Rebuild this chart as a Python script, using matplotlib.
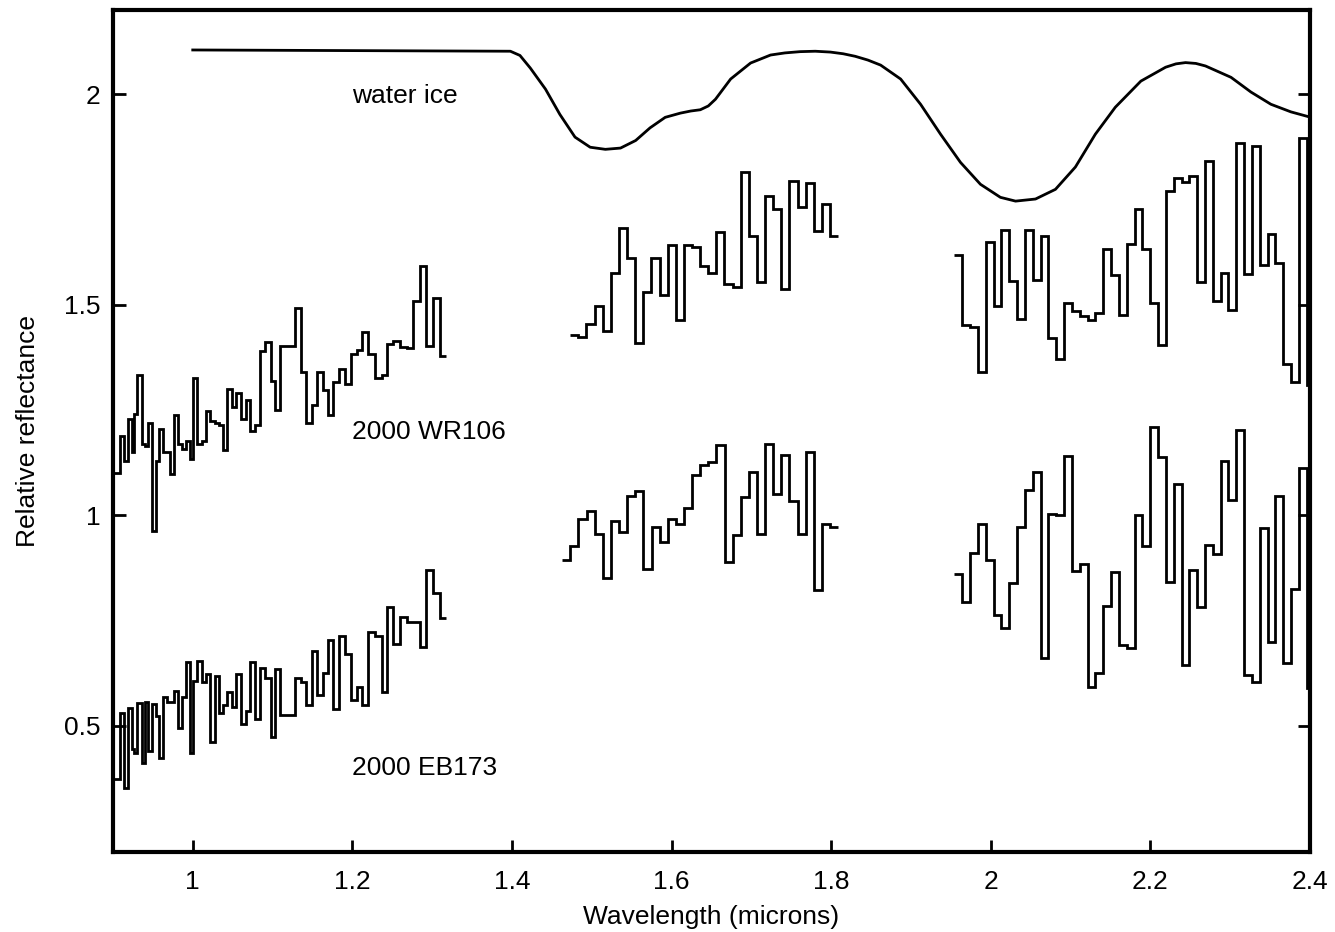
import numpy as np
import matplotlib
matplotlib.use("Agg")
import matplotlib.pyplot as plt

plt.rcParams['font.family'] = ['Liberation Sans', 'DejaVu Sans']

# J band: shared bin edges (microns) for both objects
j_edges = [0.898, 0.9088, 0.9138, 0.9192, 0.9234, 0.9263, 0.9305, 0.9360, 0.9401,
           0.9443, 0.9485, 0.9535, 0.9581, 0.9631, 0.9673, 0.9715, 0.9765, 0.9819,
           0.9861, 0.9915, 0.9966, 1.0007, 1.0058, 1.0112, 1.0166, 1.0216, 1.0279,
           1.0329, 1.0384, 1.0434, 1.0488, 1.0542, 1.0605, 1.0664, 1.0718, 1.0781,
           1.0843, 1.0906, 1.0977, 1.1031, 1.1094, 1.1282, 1.1353, 1.1420, 1.1491,
           1.1554, 1.1629, 1.1700, 1.1763, 1.1834, 1.1909, 1.1980, 1.2055, 1.2127,
           1.2202, 1.2285, 1.2369, 1.2440, 1.2515, 1.2599, 1.2682, 1.2766, 1.2849,
           1.2925, 1.3008, 1.3100, 1.3176]

wr106_j = [1.101, 1.188, 1.129, 1.228, 1.150, 1.240, 1.333, 1.169, 1.165, 1.218,
           0.963, 1.129, 1.204, 1.149, 1.149, 1.097, 1.238, 1.169, 1.157, 1.177,
           1.133, 1.327, 1.170, 1.177, 1.248, 1.224, 1.220, 1.215, 1.154, 1.299,
           1.257, 1.290, 1.228, 1.273, 1.200, 1.215, 1.390, 1.412, 1.319, 1.250,
           1.402, 1.492, 1.339, 1.219, 1.262, 1.339, 1.297, 1.238, 1.317, 1.348,
           1.311, 1.384, 1.393, 1.434, 1.384, 1.325, 1.333, 1.406, 1.413, 1.400,
           1.397, 1.509, 1.591, 1.401, 1.515, 1.378]

eb173_j = [0.373, 0.531, 0.353, 0.543, 0.444, 0.436, 0.555, 0.411, 0.557, 0.440,
           0.551, 0.523, 0.424, 0.568, 0.557, 0.557, 0.583, 0.494, 0.569, 0.652,
           0.436, 0.606, 0.654, 0.603, 0.624, 0.462, 0.617, 0.530, 0.549, 0.579,
           0.545, 0.622, 0.505, 0.535, 0.652, 0.515, 0.638, 0.614, 0.474, 0.634,
           0.526, 0.614, 0.604, 0.549, 0.678, 0.573, 0.625, 0.704, 0.539, 0.713,
           0.671, 0.561, 0.592, 0.549, 0.723, 0.712, 0.580, 0.782, 0.694, 0.759,
           0.747, 0.747, 0.687, 0.869, 0.815, 0.757]

# H band: uniform bins, EB173 starts one bin earlier
h_start_eb, h_start_wr, h_end = 1.463, 1.473, 1.8087
wr106_h = [1.428, 1.424, 1.454, 1.497, 1.438, 1.575, 1.683, 1.610, 1.410, 1.529,
           1.610, 1.523, 1.641, 1.464, 1.641, 1.637, 1.592, 1.576, 1.673, 1.549,
           1.542, 1.816, 1.662, 1.554, 1.757, 1.727, 1.538, 1.793, 1.732, 1.789,
           1.674, 1.739, 1.663]
eb173_h = [0.893, 0.926, 0.992, 1.010, 0.955, 0.852, 0.987, 0.959, 1.046, 1.058,
           0.872, 0.971, 0.937, 0.991, 0.980, 1.016, 1.096, 1.119, 1.127, 1.167,
           0.888, 0.952, 1.044, 1.103, 0.955, 1.170, 1.051, 1.143, 1.034, 0.955,
           1.150, 0.822, 0.979, 0.971]

# K band: uniform bins
k_start, k_end = 1.9545, 2.4057
wr106_k = [1.617, 1.452, 1.446, 1.341, 1.648, 1.496, 1.678, 1.557, 1.467, 1.677,
           1.558, 1.664, 1.422, 1.371, 1.503, 1.484, 1.473, 1.463, 1.480, 1.632,
           1.571, 1.475, 1.644, 1.728, 1.633, 1.504, 1.404, 1.770, 1.802, 1.792,
           1.806, 1.554, 1.842, 1.509, 1.576, 1.487, 1.884, 1.574, 1.877, 1.594,
           1.668, 1.599, 1.359, 1.317, 1.897, 1.310]
eb173_k = [0.861, 0.794, 0.911, 0.980, 0.894, 0.762, 0.731, 0.838, 0.971, 1.059,
           1.103, 0.660, 1.004, 1.000, 1.141, 0.868, 0.885, 0.593, 0.626, 0.785,
           0.864, 0.692, 0.684, 1.001, 0.926, 1.210, 1.139, 0.842, 1.074, 0.645,
           0.869, 0.781, 0.929, 0.907, 1.129, 1.036, 1.202, 0.621, 0.605, 0.969,
           0.699, 1.046, 0.650, 0.824, 1.111, 0.590]

# water ice model
ice_wl = [1.000, 1.398, 1.410, 1.423, 1.442, 1.460, 1.479, 1.498, 1.517, 1.536,
          1.555, 1.573, 1.592, 1.611, 1.624, 1.636, 1.646, 1.655, 1.674, 1.699,
          1.724, 1.742, 1.761, 1.780, 1.799, 1.815, 1.830, 1.846, 1.862, 1.887,
          1.912, 1.937, 1.962, 1.987, 2.012, 2.031, 2.056, 2.081, 2.106, 2.131,
          2.156, 2.188, 2.219, 2.232, 2.244, 2.257, 2.269, 2.301, 2.326, 2.351,
          2.376, 2.401]
ice_refl = [2.105, 2.102, 2.092, 2.062, 2.012, 1.952, 1.898, 1.874, 1.869, 1.872,
            1.890, 1.920, 1.945, 1.955, 1.960, 1.963, 1.972, 1.988, 2.036, 2.074,
            2.093, 2.098, 2.101, 2.102, 2.100, 2.096, 2.090, 2.081, 2.069, 2.036,
            1.976, 1.905, 1.838, 1.786, 1.755, 1.746, 1.751, 1.774, 1.827, 1.905,
            1.969, 2.031, 2.064, 2.072, 2.075, 2.073, 2.067, 2.040, 2.005, 1.976,
            1.958, 1.945]

x_ticks = [1, 1.2, 1.4, 1.6, 1.8, 2, 2.2, 2.4]
x_ticklabels = ["1", "1.2", "1.4", "1.6", "1.8", "2", "2.2", "2.4"]
y_ticks = [0.5, 1, 1.5, 2]
y_ticklabels = ["0.5", "1", "1.5", "2"]

fig = plt.figure(figsize=(13.35, 9.32), dpi=100)
ax = fig.add_axes([0.0846, 0.0858, 0.8967, 0.9035])

lw = 2.0
ax.stairs(wr106_j, j_edges, baseline=None, color="black", lw=lw)
ax.stairs(eb173_j, j_edges, baseline=None, color="black", lw=lw)
ax.stairs(wr106_h, np.linspace(h_start_wr, h_end, len(wr106_h) + 1),
          baseline=None, color="black", lw=lw)
ax.stairs(eb173_h, np.linspace(h_start_eb, h_end, len(eb173_h) + 1),
          baseline=None, color="black", lw=lw)
k_edges = np.linspace(k_start, k_end, len(wr106_k) + 1)
ax.stairs(wr106_k, k_edges, baseline=None, color="black", lw=lw)
ax.stairs(eb173_k, k_edges, baseline=None, color="black", lw=lw)
ax.plot(ice_wl, ice_refl, color="black", lw=2.0, solid_joinstyle="round")

fs = 19
ax.text(1.2, 1.995, "water ice", fontsize=fs, va="center", ha="left")
ax.text(1.2, 1.197, "2000 WR106", fontsize=fs, va="center", ha="left")
ax.text(1.2, 0.399, "2000 EB173", fontsize=fs, va="center", ha="left")

ax.set_xlim(0.9, 2.4)
ax.set_ylim(0.2, 2.2)
ax.set_xticks(x_ticks)
ax.set_xticklabels(x_ticklabels)
ax.set_yticks(y_ticks)
ax.set_yticklabels(y_ticklabels)
ax.tick_params(direction="in", length=9, width=2, labelsize=fs,
               right=True, top=False)
ax.tick_params(axis="x", pad=13)
ax.tick_params(axis="y", pad=9)
for s in ax.spines.values():
    s.set_linewidth(3)

ax.set_xlabel("Wavelength (microns)", fontsize=fs, labelpad=8)
ax.set_ylabel("Relative reflectance", fontsize=fs, labelpad=17)

fig.savefig("out.png", dpi=100)
